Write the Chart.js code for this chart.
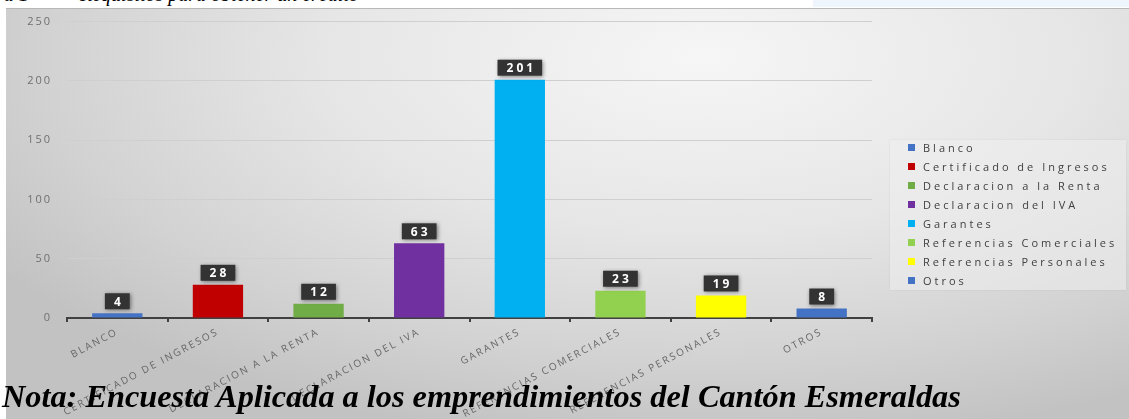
<!DOCTYPE html>
<html>
<head>
<meta charset="utf-8">
<script src="https://cdn.jsdelivr.net/npm/chart.js@4.4.1/dist/chart.umd.min.js"></script>
<style>
  body{margin:0;width:1129px;height:419px;overflow:hidden;background:#fff;position:relative;font-family:"Open Sans",sans-serif}
  #top{position:absolute;left:0;top:0;width:1129px;height:8px;overflow:hidden}
  #top .cap{position:absolute;top:-17px;font:italic 20px "Liberation Serif",serif;white-space:pre;color:#000}
  #blue{position:absolute;left:813px;top:0;width:316px;height:7px;background:#eef5fc}
  #bg{position:absolute;left:6px;top:8px;width:1123px;height:411px;
      background:radial-gradient(ellipse 75% 95% at 62% 12%, #f6f6f6 0%, #e6e6e6 45%, #d2d2d2 78%, #c2c2c2 100%);
      box-shadow:inset 0 1px 0 #b8b8b8}
  #chart{position:absolute;left:6px;top:0}
  #legend{position:absolute;left:890px;top:140px;width:236px;height:150px;background:rgba(238,238,238,.55);
          box-shadow:0 0 2px rgba(0,0,0,.08)}
  #legend .it{position:absolute;left:18px;height:14px;font-size:11px;letter-spacing:3px;color:#404040;white-space:nowrap;line-height:14px}
  #legend .sw{position:absolute;left:0;top:3px;width:7px;height:7px}
  #legend .tx{position:absolute;left:15px;top:0}
  #nota{position:absolute;left:2px;top:380px;font:italic bold 32.3px "Liberation Serif",serif;color:#000;white-space:nowrap;line-height:32px}
</style>
</head>
<body>
<div id="top"><div class="cap" style="left:-4px">ra 1</div><div class="cap" style="left:80px">Requisitos para obtener un crédito</div></div>
<div id="blue"></div>
<div id="bg"></div>
<canvas id="chart" width="1123" height="419"></canvas>
<div id="legend"></div>
<div id="nota">Nota: Encuesta Aplicada a los emprendimientos del Cantón Esmeraldas</div>
<script>
const categories = ['BLANCO','CERTIFICADO DE INGRESOS','DECLARACION A LA RENTA','DECLARACION DEL IVA','GARANTES','REFERENCIAS COMERCIALES','REFERENCIAS PERSONALES','OTROS'];
const legendNames = ['Blanco','Certificado de Ingresos','Declaracion a la Renta','Declaracion del IVA','Garantes','Referencias Comerciales','Referencias Personales','Otros'];
const counts = [4,28,12,63,201,23,19,8];
const barColors = ['#4472C4','#C00000','#70AD47','#7030A0','#00B0F0','#92D050','#FFFF00','#4472C4'];
const yMin = 0, yMax = 250, yStep = 50;

// legend, one row per category
const lg = document.getElementById('legend');
legendNames.forEach((n,i)=>{
  const d = document.createElement('div');
  d.className = 'it';
  d.style.top = (1 + i*19) + 'px';
  d.innerHTML = `<span class="sw" style="background:${barColors[i]}"></span><span class="tx">${n}</span>`;
  lg.appendChild(d);
});

// wide spaced text like the source
const spacing = {
  id:'spacing',
  beforeDraw(c){ c.ctx.letterSpacing = '2px'; },
  afterDraw(c){ c.ctx.letterSpacing = '0px'; }
};

// dark value boxes above each bar
const valueBoxes = {
  id:'valueBoxes',
  afterDatasetsDraw(c){
    const ctx = c.ctx;
    const meta = c.getDatasetMeta(0);
    ctx.save();
    ctx.font = 'bold 12px "Open Sans"';
    ctx.letterSpacing = '3px';
    meta.data.forEach((bar,i)=>{
      const txt = String(counts[i]);
      const w = ctx.measureText(txt).width - 3 + 18;
      const h = 16;
      const x = bar.x - w/2, y = bar.y - 4 - h;
      ctx.shadowColor = 'rgba(0,0,0,.45)';
      ctx.shadowBlur = 4; ctx.shadowOffsetX = 1; ctx.shadowOffsetY = 1;
      ctx.fillStyle = '#333';
      ctx.fillRect(x, y, w, h);
      ctx.shadowColor = 'transparent';
      ctx.fillStyle = '#fff';
      ctx.textAlign = 'center'; ctx.textBaseline = 'middle';
      ctx.fillText(txt, bar.x + 1.5, y + h/2 + 1);
    });
    ctx.restore();
  }
};

new Chart(document.getElementById('chart'), {
  type:'bar',
  data:{ labels: categories, datasets:[{ data: counts, backgroundColor: barColors, borderWidth:0,
         categoryPercentage:1, barPercentage:0.5 }] },
  options:{
    responsive:false, animation:false,
    layout:{ padding:{ top:4, right:257, left:0, bottom:0 } },
    plugins:{ legend:{display:false}, tooltip:{enabled:false} },
    scales:{
      x:{
        afterFit: s => { s.height = 101; },
        grid:{ drawOnChartArea:false, drawTicks:true, tickLength:4, color:'#404040', lineWidth:2 },
        border:{ display:true, color:'#404040', width:2 },
        ticks:{ autoSkip:false, minRotation:28, maxRotation:28, padding:4, color:'#666',
                font:{ family:'Open Sans', size:10 } }
      },
      y:{
        min:yMin, max:yMax,
        afterFit: s => { s.width = 61; },
        grid:{ color:'#cfcfcf', lineWidth:1, drawTicks:false },
        border:{ display:false },
        ticks:{ stepSize:yStep, padding:15, color:'#707070', font:{ family:'Open Sans', size:11 } }
      }
    }
  },
  plugins:[spacing, valueBoxes]
});
</script>
</body>
</html>
